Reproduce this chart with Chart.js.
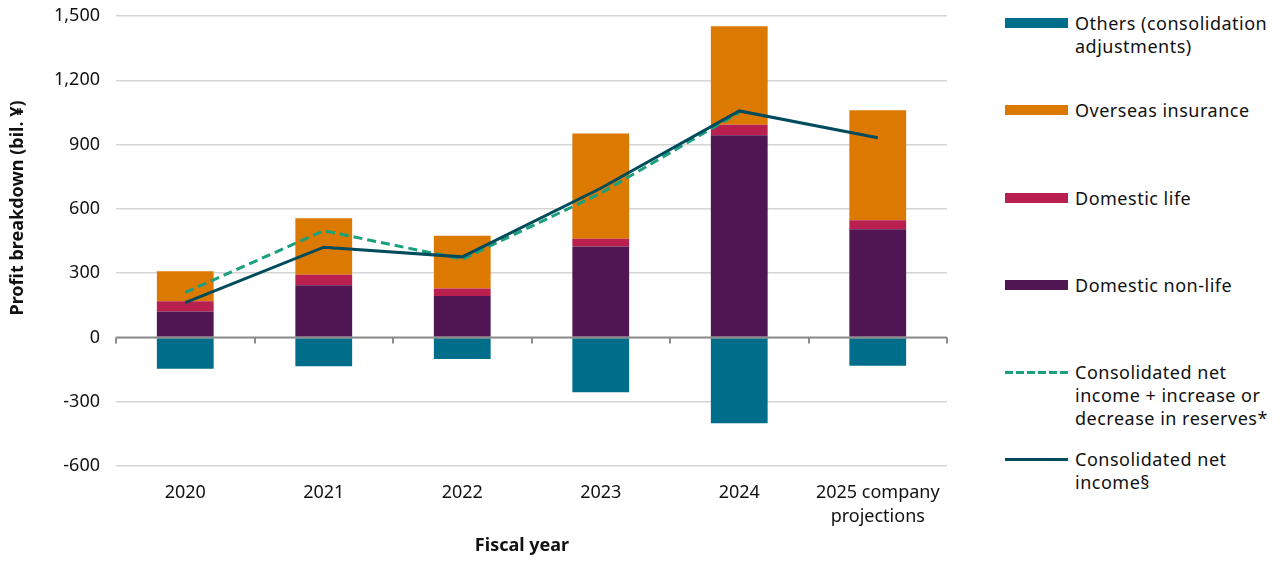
<!DOCTYPE html>
<html>
<head>
<meta charset="utf-8">
<script src="https://cdn.jsdelivr.net/npm/chart.js@4"></script>
<style>
  body { margin: 0; background: #fff; font-family: "Noto Sans", sans-serif; }
  #wrap { position: relative; width: 1285px; height: 561px; }
  #box { position: absolute; left: 0; top: 0; width: 960px; height: 561px; }
  .item { position: absolute; left: 1005px; font-size: 18px; line-height: 23px; color: #111; letter-spacing: 0.5px; }
  .sw { position: absolute; left: 0; width: 63px; }
  .txt { position: absolute; left: 70px; white-space: nowrap; }
</style>
</head>
<body>
<div id="wrap">
  <div id="box"><canvas id="myChart"></canvas></div>
  <div id="legend"></div>
</div>
<script>
const years = ['2020', '2021', '2022', '2023', '2024', ['2025 company', 'projections']];
const domesticNonLife = [121, 244, 193, 424, 944, 505];
const domesticLife = [48, 48, 35, 37, 48, 42];
const overseasInsurance = [140, 264, 247, 491, 460, 513];
const others = [-146, -135, -101, -256, -401, -132];
const netIncomePlusReserves = [210, 498, 365, 673, 1050, null];
const netIncome = [162, 421, 376, 696, 1057, 932];

const colors = {
  others: '#006e8a',
  overseas: '#db7900',
  life: '#b91f4f',
  nonLife: '#501654',
  dashed: '#1aa07c',
  solid: '#004c5c'
};

// zero line, category tick marks and axis titles
const extras = {
  id: 'extras',
  afterDatasetsDraw(chart) {
    const ctx = chart.ctx;
    const area = chart.chartArea;
    const y0 = chart.scales.y.getPixelForValue(0);
    const step = (area.right - area.left) / years.length;
    ctx.save();
    ctx.strokeStyle = '#8c8c8c';
    ctx.lineWidth = 2;
    ctx.beginPath();
    ctx.moveTo(area.left, y0);
    ctx.lineTo(area.right, y0);
    for (let i = 0; i <= years.length; i++) {
      const x = Math.round(area.left + i * step);
      ctx.moveTo(x, y0);
      ctx.lineTo(x, y0 + 6);
    }
    ctx.stroke();

    ctx.fillStyle = '#111';
    ctx.font = 'bold 18px "Noto Sans"';
    ctx.textAlign = 'center';
    ctx.textBaseline = 'middle';
    ctx.fillText('Fiscal year', 522, 546);
    ctx.translate(18, 208);
    ctx.rotate(-Math.PI / 2);
    ctx.fillText('Profit breakdown (bil. ¥)', 0, 0);
    ctx.restore();
  }
};

const ctx = document.getElementById('myChart').getContext('2d');
const chart = new Chart(ctx, {
  type: 'bar',
  data: {
    labels: years,
    datasets: [
      { label: 'Domestic non-life', data: domesticNonLife, backgroundColor: colors.nonLife, stack: 'bars', order: 2 },
      { label: 'Domestic life', data: domesticLife, backgroundColor: colors.life, stack: 'bars', order: 2 },
      { label: 'Overseas insurance', data: overseasInsurance, backgroundColor: colors.overseas, stack: 'bars', order: 2 },
      { label: 'Others (consolidation adjustments)', data: others, backgroundColor: colors.others, stack: 'bars', order: 2 },
      {
        type: 'line', label: 'Consolidated net income + increase or decrease in reserves*',
        data: netIncomePlusReserves, borderColor: colors.dashed, borderWidth: 3, borderDash: [9, 5],
        pointRadius: 0, stack: 'l1', order: 1, spanGaps: false
      },
      {
        type: 'line', label: 'Consolidated net income§',
        data: netIncome, borderColor: colors.solid, borderWidth: 3,
        pointRadius: 0, stack: 'l2', order: 0
      }
    ]
  },
  options: {
    responsive: true,
    maintainAspectRatio: false,
    animation: false,
    datasets: { bar: { barPercentage: 0.41, categoryPercentage: 1 } },
    layout: { padding: { top: 16, right: 13, left: 0, bottom: 0 } },
    plugins: { legend: { display: false }, tooltip: { enabled: false } },
    scales: {
      x: {
        stacked: true,
        grid: { display: false },
        border: { display: false },
        ticks: { color: '#111', font: { family: 'Noto Sans', size: 18, lineHeight: 1.33 }, padding: 7, maxRotation: 0 },
        afterFit(scale) { scale.height = 95; }
      },
      y: {
        stacked: true,
        min: -600,
        max: 1500,
        grid: { color: '#d4d4d4', lineWidth: 1.5, drawTicks: false },
        border: { display: false },
        ticks: {
          stepSize: 300,
          color: '#111',
          padding: 16,
          font: { family: 'Noto Sans', size: 18 },
          callback: v => v.toLocaleString('en-US')
        },
        afterFit(scale) {
          scale.width = 116;
          scale.paddingTop = 0;
          scale.paddingBottom = 0;
        }
      }
    }
  },
  plugins: [extras]
});

// legend on the right
const legendItems = [
  { text: ['Others (consolidation', 'adjustments)'], color: colors.others, kind: 'box', y: 23 },
  { text: ['Overseas insurance'], color: colors.overseas, kind: 'box', y: 110 },
  { text: ['Domestic life'], color: colors.life, kind: 'box', y: 198 },
  { text: ['Domestic non-life'], color: colors.nonLife, kind: 'box', y: 285 },
  { text: ['Consolidated net', 'income + increase or', 'decrease in reserves*'], color: colors.dashed, kind: 'dash', y: 372 },
  { text: ['Consolidated net', 'income§'], color: colors.solid, kind: 'line', y: 459 }
];
const legend = document.getElementById('legend');
legendItems.forEach(item => {
  const div = document.createElement('div');
  div.className = 'item';
  div.style.top = (item.y - 11.5) + 'px';
  const sw = document.createElement('div');
  sw.className = 'sw';
  if (item.kind === 'box') {
    sw.style.top = '6.5px';
    sw.style.height = '10px';
    sw.style.background = item.color;
  } else {
    sw.style.top = '10px';
    sw.style.height = '3px';
    sw.style.background = item.kind === 'dash'
      ? 'repeating-linear-gradient(90deg, ' + item.color + ' 0 8px, transparent 8px 11px)'
      : item.color;
  }
  const txt = document.createElement('div');
  txt.className = 'txt';
  txt.innerHTML = item.text.join('<br>');
  div.appendChild(sw);
  div.appendChild(txt);
  legend.appendChild(div);
});
</script>
</body>
</html>
